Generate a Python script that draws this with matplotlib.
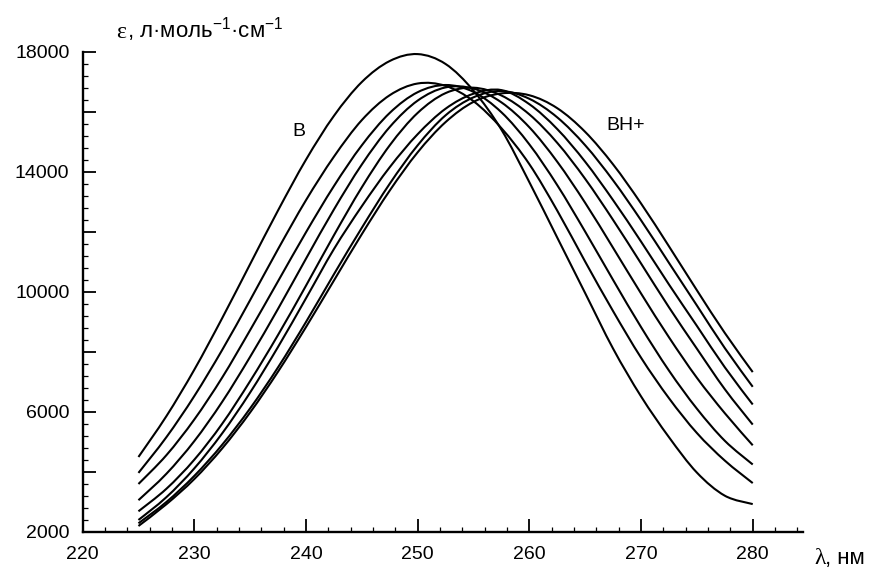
import matplotlib
matplotlib.use("Agg")
import matplotlib.pyplot as plt
from matplotlib.path import Path
from matplotlib.patches import PathPatch
from matplotlib.ticker import MultipleLocator, FixedLocator, FixedFormatter

# ---------------- data ----------------
wavelength = [225, 227.5, 230, 232.5, 235, 237.5, 240, 242.5, 245, 247.5, 250,
              252.5, 255, 257.5, 260, 262.5, 265, 267.5, 270, 272.5, 275, 277.5, 280]

eps_1 = [4490, 5850, 7400, 9120, 10920, 12710, 14400, 15860, 16990, 17690, 17920,
         17590, 16700, 15400, 13650, 11800, 9950, 8100, 6510, 5150, 3970, 3200, 2920]
eps_2 = [3960, 5150, 6520, 8060, 9720, 11420, 13050, 14500, 15720, 16550, 16940,
         16860, 16350, 15450, 14250, 12700, 11000, 9350, 7800, 6450, 5290, 4370, 3620]
eps_3 = [3590, 4550, 5740, 7140, 8720, 10350, 11980, 13520, 14880, 15960, 16650,
         16890, 16660, 15980, 14910, 13550, 12000, 10390, 8820, 7370, 6100, 5030, 4240]
eps_4 = [3050, 3930, 5020, 6330, 7830, 9430, 11100, 12740, 14240, 15490, 16370,
         16810, 16770, 16310, 15480, 14330, 12960, 11460, 9940, 8480, 7130, 5950, 4880]
eps_5 = [2680, 3430, 4400, 5600, 7020, 8560, 10200, 11880, 13480, 14880, 15960,
         16620, 16800, 16540, 15910, 14960, 13760, 12390, 10940, 9480, 8100, 6750, 5570]
eps_6 = [2390, 3150, 4110, 5280, 6640, 8160, 9780, 11420, 12850, 14150, 15250,
         16100, 16600, 16720, 16250, 15420, 14330, 13050, 11670, 10240, 8860, 7480, 6240]
eps_7 = [2280, 2990, 3860, 4900, 6110, 7480, 8990, 10580, 12130, 13600, 14880,
         15880, 16480, 16690, 16430, 15810, 14880, 13710, 12380, 10960, 9540, 8120, 6830]
eps_8 = [2190, 2915, 3755, 4777, 5976, 7336, 8821, 10372, 11918, 13372, 14647,
         15654, 16327, 16610, 16548, 16116, 15326, 14241, 12940, 11512, 10048, 8624, 7320]

series = [eps_1, eps_2, eps_3, eps_4, eps_5, eps_6, eps_7, eps_8]

x_ticks = [220, 230, 240, 250, 260, 270, 280]
y_ticks = [2000, 4000, 6000, 8000, 10000, 12000, 14000, 16000, 18000]
y_tick_labels = ["2000", "", "6000", "", "10000", "", "14000", "", "18000"]

label_B = "B"
label_BH = "BH+"
ylabel_eps = "ε"
ylabel_rest = ", л·моль$^{-1}$·см$^{-1}$"
xlabel_lam = "λ"
xlabel_rest = ", нм"


def smooth_path(xs, ys):
    """Catmull-Rom curve through the read points, drawn as cubic Bezier segments."""
    n = len(xs)
    verts = [(xs[0], ys[0])]
    codes = [Path.MOVETO]
    for i in range(n - 1):
        i0 = max(i - 1, 0)
        i3 = min(i + 2, n - 1)
        c1 = (xs[i] + (xs[i + 1] - xs[i0]) / 6.0, ys[i] + (ys[i + 1] - ys[i0]) / 6.0)
        c2 = (xs[i + 1] - (xs[i3] - xs[i]) / 6.0, ys[i + 1] - (ys[i3] - ys[i]) / 6.0)
        verts += [c1, c2, (xs[i + 1], ys[i + 1])]
        codes += [Path.CURVE4, Path.CURVE4, Path.CURVE4]
    return Path(verts, codes)


# ---------------- figure ----------------
plt.rcParams["font.family"] = ["Liberation Sans", "DejaVu Sans"]
plt.rcParams["mathtext.default"] = "regular"

W, H = 874, 572
fig = plt.figure(figsize=(W / 100, H / 100), dpi=100)
ax = fig.add_axes([82.6 / W, 1 - 531.7 / H, (803 - 82.6) / W, (531.7 - 51.7) / H])

for s in series:
    ax.add_patch(PathPatch(smooth_path(wavelength, s), facecolor="none",
                           edgecolor="black", lw=1.5, joinstyle="round",
                           capstyle="butt"))

ax.set_xlim(220, 284.5)
ax.set_ylim(2000, 18000)

for side in ("top", "right"):
    ax.spines[side].set_visible(False)
for side in ("left", "bottom"):
    ax.spines[side].set_linewidth(1.7)

ax.xaxis.set_major_locator(FixedLocator(x_ticks))
ax.xaxis.set_minor_locator(MultipleLocator(2))
ax.yaxis.set_major_locator(FixedLocator(y_ticks))
ax.yaxis.set_major_formatter(FixedFormatter(y_tick_labels))
ax.yaxis.set_minor_locator(MultipleLocator(400))

ax.tick_params(which="major", direction="in", length=9.5, width=1.3,
               labelsize=14, color="black")
ax.tick_params(which="minor", direction="in", length=3.8, width=0.9, color="black")
ax.tick_params(axis="x", which="major", pad=10)
ax.tick_params(axis="y", which="major", pad=9.5)

ax.text(239.36, 15333, label_B, fontsize=14, ha="center", va="center")
ax.text(268.58, 15556, label_BH, fontsize=14, ha="center", va="center")


def fx(px):
    return px / W


def fy(py):
    return 1 - py / H


fig.text(fx(116), fy(38), ylabel_eps, family=["Liberation Serif", "DejaVu Serif"],
         fontsize=17, ha="left", va="baseline")
fig.text(fx(127), fy(38), ylabel_rest, fontsize=16, ha="left", va="baseline")
fig.text(fx(814), fy(564), xlabel_lam, family=["Liberation Serif", "DejaVu Serif"],
         fontsize=17, ha="left", va="baseline")
fig.text(fx(825), fy(564), xlabel_rest, fontsize=16, ha="left", va="baseline")

fig.savefig("out.png", dpi=100, facecolor="white")
